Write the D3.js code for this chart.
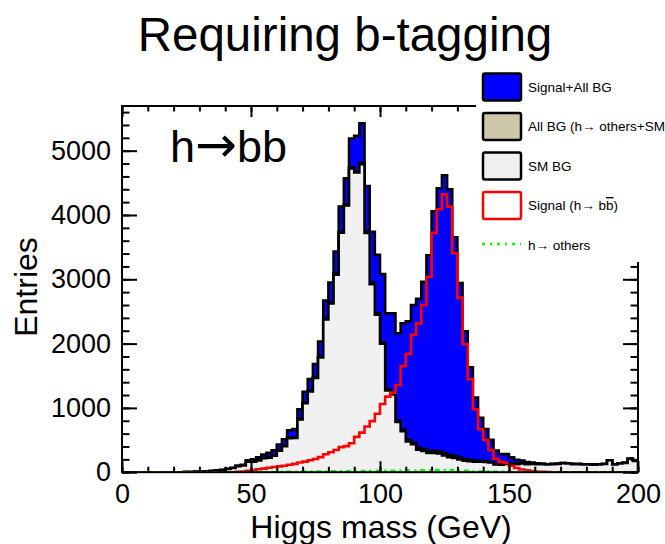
<!DOCTYPE html>
<html>
<head>
<meta charset="utf-8">
<script src="https://cdn.jsdelivr.net/npm/d3@7"></script>
<style>
    body { margin: 0; background: #fff; }
    svg { display: block; }
    text { font-family: "Liberation Sans", Arial, Helvetica, sans-serif; }
</style>
</head>
<body>
<svg id="chart" width="665" height="544"></svg>
<script>
// 100 bins of 2 GeV, 0 - 200 GeV
const nBins = 100;
const binWidth = 2;

const smBG = [
    0, 0, 0, 0, 0, 0, 0, 0, 0, 0, 0, 0,
    2, 3, 5, 8, 12, 18, 25, 35, 50, 65, 95, 105, 165, 163, 182, 217, 226, 255,
    335, 404, 528, 532, 821, 1075, 1255, 1464, 1783, 2377, 2626, 3070, 3724, 4148,
    4722, 4661, 4790, 3720, 2924, 2448, 1998, 1272, 1211, 780, 639, 480, 437, 350,
    329, 300, 300, 290, 260, 235, 220, 199, 180, 170, 165, 165, 160, 150, 120, 115,
    130, 125, 125, 135, 125, 130, 125, 125, 120, 125, 130, 140, 135, 125, 125, 120,
    120, 118, 122, 128, 185, 122, 135, 145, 210, 175
];

const hOthers = [
    0, 0, 0, 0, 0, 0, 0, 0, 0, 0, 0, 0, 0, 0, 0, 0, 0, 0, 0, 0, 0, 0, 0, 0, 0,
    2, 3, 3, 4, 5, 5, 6, 7, 8, 9, 10, 10, 11, 12, 13, 14, 15, 16, 17, 18, 19, 20,
    20, 21, 22, 22, 23, 24, 25, 26, 27, 28, 30, 31, 32, 34, 35, 36, 34, 30, 26, 22,
    18, 15, 12, 10, 9, 8, 7, 6, 5, 4, 4, 3, 3, 2, 2, 2,
    1, 1, 1, 1, 1, 1, 1,
    0, 0, 0, 0, 0, 0, 0, 0, 0, 0
];

const signal = [
    0, 0, 0, 0, 0, 0, 0, 0, 0, 0, 0, 0, 0, 0, 0, 0, 0, 0, 0, 0, 0, 0,
    5, 10, 20, 35, 45, 55, 70, 80, 90, 100, 115, 130, 150, 165, 185, 205, 235, 280,
    310, 345, 390, 405, 450, 550, 615, 710, 795, 910, 1060, 1175, 1235, 1355, 1650,
    1840, 2135, 2315, 2600, 3040, 3725, 4090, 4320, 4130, 3405, 2715, 1990, 1445,
    980, 670, 500, 345, 210, 160, 145, 100, 65, 42, 28, 18, 10, 5, 2,
    0, 0, 0, 0, 0, 0, 0, 0, 0, 0, 0, 0, 0, 0, 0, 0, 0
];

const xTicks = [0, 50, 100, 150, 200];
const yTicks = [0, 1000, 2000, 3000, 4000, 5000];

const legendItems = [
    { label: "Signal+All BG", fill: "#0000ff", stroke: "#000" },
    { label: "All BG (h\u2192 others+SM BG)", fill: "#cdc6a9", stroke: "#000" },
    { label: "SM BG", fill: "#f0f0f0", stroke: "#000" },
    { label: "Signal", fill: "#fff", stroke: "#ff0000" },
    { label: "h\u2192 others", line: "#00ff00" }
];

// stacks
const allBG = smBG.map((v, i) => v + hOthers[i]);
const total = allBG.map((v, i) => v + signal[i]);

const svg = d3.select("#chart");

const plotLeft = 122, plotRight = 638, plotTop = 106, plotBottom = 472.2;

const x = d3.scaleLinear().domain([0, 200]).range([plotLeft, plotRight]);
const y = d3.scaleLinear().domain([0, 5695]).range([plotBottom, plotTop]);

svg.append("defs").append("clipPath").attr("id", "plotClip")
    .append("rect")
    .attr("x", plotLeft).attr("y", plotTop)
    .attr("width", plotRight - plotLeft).attr("height", plotBottom - plotTop);

function stepPoints(vals) {
    const pts = [[0, 0]];
    vals.forEach((v, i) => pts.push([i * binWidth, v]));
    pts.push([nBins * binWidth, vals[vals.length - 1]]);
    pts.push([nBins * binWidth, 0]);
    return pts;
}

const area = d3.area()
    .x(d => x(d[0]))
    .y0(y(0))
    .y1(d => y(d[1]))
    .curve(d3.curveStepAfter);

const line = d3.line()
    .x(d => x(d[0]))
    .y(d => y(d[1]))
    .curve(d3.curveStepAfter);

const plot = svg.append("g").attr("clip-path", "url(#plotClip)");

function drawHist(vals, fill, stroke) {
    const pts = stepPoints(vals);
    if (fill) plot.append("path").attr("d", area(pts)).attr("fill", fill);
    plot.append("path").attr("d", line(pts))
        .attr("fill", "none")
        .attr("stroke", stroke)
        .attr("stroke-width", 2.6)
        .attr("stroke-linejoin", "miter");
}

drawHist(total, "#0000ff", "#000");
drawHist(allBG, "#cdc6a9", "#000");
drawHist(smBG, "#f0f0f0", "#000");
drawHist(signal, null, "#ff0000");

plot.append("path")
    .attr("d", line(stepPoints(hOthers)))
    .attr("fill", "none")
    .attr("stroke", "#00ff00")
    .attr("stroke-width", 2.4)
    .attr("stroke-dasharray", "5,4,2,4");

// =============================
// FRAME + AXES
// =============================
svg.append("rect")
    .attr("x", plotLeft).attr("y", plotTop)
    .attr("width", plotRight - plotLeft).attr("height", plotBottom - plotTop)
    .attr("fill", "none")
    .attr("stroke", "#000")
    .attr("stroke-width", 2);

const xMinor = d3.range(0, 201, 10);
const yMinor = d3.range(0, 5601, 200);

function styleAxis(g) {
    g.select(".domain").remove();
    g.selectAll(".tick line").attr("stroke", "#000").attr("stroke-width", 2);
    g.selectAll("text")
        .attr("fill", "#000")
        .style("font-family", "'Liberation Sans', Arial, Helvetica, sans-serif")
        .style("font-size", "27px");
}

// bottom
svg.append("g").attr("transform", `translate(0,${plotBottom})`)
    .call(d3.axisBottom(x).tickValues(xMinor).tickSize(-5.5).tickFormat(""))
    .call(styleAxis);
svg.append("g").attr("transform", `translate(0,${plotBottom})`)
    .call(d3.axisBottom(x).tickValues(xTicks).tickSize(-11).tickPadding(12).tickFormat(d3.format("d")))
    .call(styleAxis);
// top
svg.append("g").attr("transform", `translate(0,${plotTop})`)
    .call(d3.axisTop(x).tickValues(xMinor).tickSize(-5.5).tickFormat(""))
    .call(styleAxis);
svg.append("g").attr("transform", `translate(0,${plotTop})`)
    .call(d3.axisTop(x).tickValues(xTicks).tickSize(-11).tickFormat(""))
    .call(styleAxis);
// left
svg.append("g").attr("transform", `translate(${plotLeft},0)`)
    .call(d3.axisLeft(y).tickValues(yMinor).tickSize(-7.5).tickFormat(""))
    .call(styleAxis);
svg.append("g").attr("transform", `translate(${plotLeft},0)`)
    .call(d3.axisLeft(y).tickValues(yTicks).tickSize(-15).tickPadding(11).tickFormat(d3.format("d")))
    .call(styleAxis);
// right
svg.append("g").attr("transform", `translate(${plotRight},0)`)
    .call(d3.axisRight(y).tickValues(yMinor).tickSize(-7.5).tickFormat(""))
    .call(styleAxis);
svg.append("g").attr("transform", `translate(${plotRight},0)`)
    .call(d3.axisRight(y).tickValues(yTicks).tickSize(-15).tickFormat(""))
    .call(styleAxis);

// =============================
// TITLES
// =============================
svg.append("text")
    .attr("x", 345).attr("y", 51)
    .attr("text-anchor", "middle")
    .attr("font-size", 47.5)
    .text("Requiring b-tagging");

const decay = svg.append("text")
    .attr("x", 170).attr("y", 162)
    .attr("font-size", 45);
decay.append("tspan").text("h");
decay.append("tspan")
    .style("font-family", "'DejaVu Sans', sans-serif")
    .attr("font-size", 50)
    .text("\u2192");
decay.append("tspan").text("bb");

svg.append("text")
    .attr("transform", "translate(37,287) rotate(-90)")
    .attr("text-anchor", "middle")
    .attr("font-size", 32)
    .text("Entries");

svg.append("text")
    .attr("x", 381).attr("y", 538)
    .attr("text-anchor", "middle")
    .attr("font-size", 32)
    .text("Higgs mass (GeV)");

// =============================
// LEGEND
// =============================
const legend = svg.append("g");
legend.append("rect")
    .attr("x", 476).attr("y", 62)
    .attr("width", 195).attr("height", 200)
    .attr("fill", "#fff");

legendItems.forEach((item, i) => {
    const cy = 87 + i * 39.5;
    if (item.line) {
        legend.append("line")
            .attr("x1", 482).attr("x2", 521)
            .attr("y1", cy - 1).attr("y2", cy - 1)
            .attr("stroke", item.line)
            .attr("stroke-width", 2.4)
            .attr("stroke-dasharray", "3,5,2,5");
    } else {
        legend.append("rect")
            .attr("x", 483).attr("y", cy - 13.5)
            .attr("width", 38).attr("height", 27)
            .attr("rx", 2)
            .attr("fill", item.fill)
            .attr("stroke", item.stroke)
            .attr("stroke-width", 2.5);
    }
    const t = legend.append("text")
        .attr("x", 528).attr("y", cy + 4.5)
        .attr("font-size", 13.5)
        .text(item.label);
    if (item.label === "Signal") {
        t.text("Signal (h\u2192 b");
        t.append("tspan").attr("text-decoration", "overline").text("b");
        t.append("tspan").text(")");
    }
});
</script>
</body>
</html>
